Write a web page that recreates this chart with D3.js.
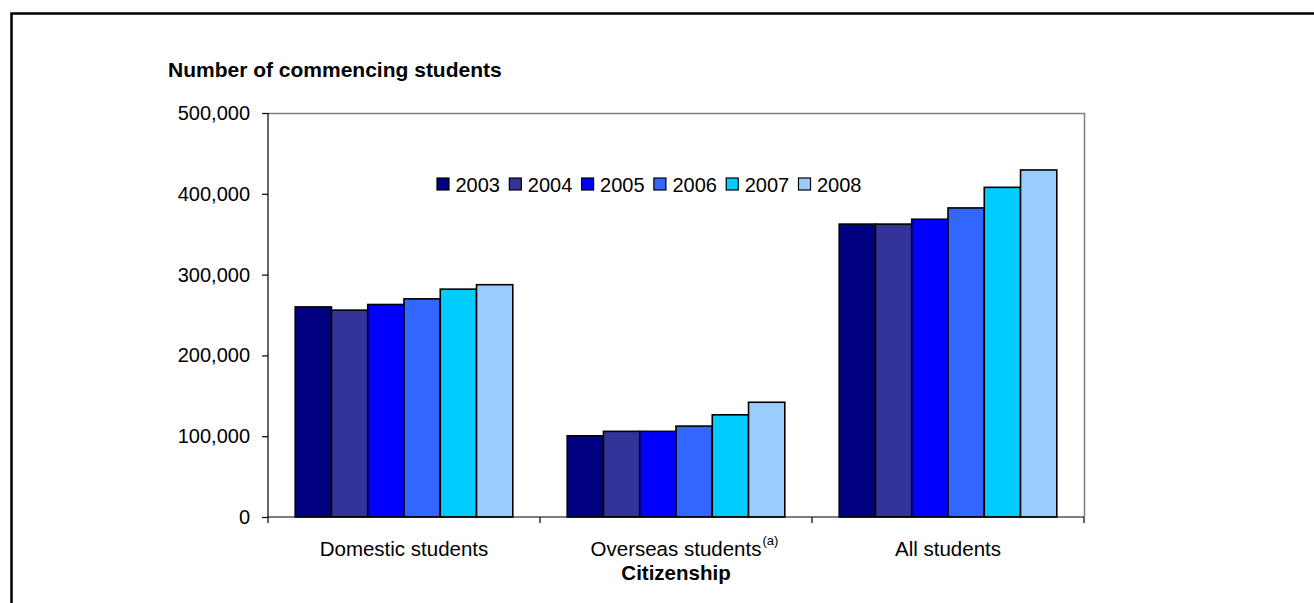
<!DOCTYPE html>
<html>
<head>
<meta charset="utf-8">
<script src="https://cdn.jsdelivr.net/npm/d3@7/dist/d3.min.js"></script>
<style>
  html, body { margin: 0; padding: 0; background: #fff; }
  svg { display: block; font-family: Arial, "Liberation Sans", sans-serif; }
</style>
</head>
<body>
<svg id="chart" width="1314" height="603"></svg>
<script>
// Commencing students by citizenship, 2003–2008
const categories = ["Domestic students", "Overseas students", "All students"];
const years = ["2003", "2004", "2005", "2006", "2007", "2008"];
const domestic = [260000, 256000, 263000, 270000, 282000, 287500];
const overseas = [100500, 106000, 106000, 112500, 126500, 142000];
const allStudents = [362500, 362500, 368500, 382500, 408000, 429500];
const yTicks = [0, 100000, 200000, 300000, 400000, 500000];
const colors = ["#000080", "#333399", "#0000FF", "#3366FF", "#00CCFF", "#99CCFF"];
const footnotes = { "Overseas students": "(a)" };

const seriesByCategory = [domestic, overseas, allStudents];

const svg = d3.select("#chart");

// frame around the whole chart
svg.append("rect")
  .attr("x", 11.5).attr("y", 13.5)
  .attr("width", 1320).attr("height", 700)
  .attr("fill", "none").attr("stroke", "#000").attr("stroke-width", 2.5);

const plot = { left: 268, right: 1084, top: 113, bottom: 517 };

const x = d3.scaleBand().domain(categories).range([plot.left, plot.right]).paddingInner(0).paddingOuter(0);
const bw = x.bandwidth();
const barW = bw / 7.5;
const xs = d3.scaleBand().domain(years).range([barW * 0.75, bw - barW * 0.75]).padding(0);
const y = d3.scaleLinear().domain([0, 500000]).range([plot.bottom, plot.top]);

// plot area outline (top and right in grey)
svg.append("path")
  .attr("d", `M${plot.left},${plot.top + 0.5}H${plot.right + 0.5}V${plot.bottom}`)
  .attr("fill", "none").attr("stroke", "#808080").attr("stroke-width", 1.5);

// bars
const groups = svg.append("g").selectAll("g")
  .data(categories)
  .join("g")
  .attr("transform", d => `translate(${x(d)},0)`);

groups.selectAll("rect")
  .data((c, i) => years.map((yr, j) => ({ yr, v: seriesByCategory[i][j], j })))
  .join("rect")
  .attr("x", d => xs(d.yr))
  .attr("y", d => y(d.v))
  .attr("width", xs.bandwidth())
  .attr("height", d => plot.bottom - y(d.v))
  .attr("fill", d => colors[d.j])
  .attr("stroke", "#000").attr("stroke-width", 1.6);

// y axis
const yAxis = d3.axisLeft(y).tickValues(yTicks).tickSize(6).tickPadding(12)
  .tickFormat(d3.format(","));
const yg = svg.append("g").attr("transform", `translate(${plot.left},0)`).call(yAxis);
yg.select(".domain").attr("stroke", "#000").attr("stroke-width", 1.2).attr("d", `M-6,${plot.top + 0.5}H0V${plot.bottom}`);
yg.selectAll(".tick line").attr("stroke", "#000").attr("stroke-width", 1.2);
yg.selectAll(".tick text").attr("font-size", 20).attr("fill", "#000")
  .attr("font-family", "Arial, 'Liberation Sans', sans-serif");

// x axis: ticks at category boundaries
const xg = svg.append("g").attr("transform", `translate(0,${plot.bottom})`);
xg.append("line").attr("x1", plot.left).attr("x2", plot.right).attr("stroke", "#000").attr("stroke-width", 1.2);
const bounds = categories.map(c => x(c)).concat([plot.right]);
xg.selectAll("line.tk").data(bounds).join("line").attr("class", "tk")
  .attr("x1", d => d).attr("x2", d => d).attr("y1", 0).attr("y2", 6)
  .attr("stroke", "#000").attr("stroke-width", 1.2);

const labels = xg.selectAll("text.cat").data(categories).join("text").attr("class", "cat")
  .attr("x", d => x(d) + bw / 2).attr("y", 39)
  .attr("text-anchor", "middle").attr("font-size", 20.5).attr("fill", "#000")
  .text(d => d);

// footnote markers placed just after the centred label
labels.each(function (d) {
  if (!footnotes[d]) return;
  const box = this.getBBox();
  xg.append("text")
    .attr("x", box.x + box.width + 1).attr("y", 28)
    .attr("font-size", 13).attr("fill", "#000")
    .text(footnotes[d]);
});

// axis titles
svg.append("text").attr("x", (plot.left + plot.right) / 2).attr("y", 580)
  .attr("text-anchor", "middle").attr("font-size", 20.5).attr("font-weight", "bold")
  .text("Citizenship");
svg.append("text").attr("x", 168).attr("y", 77)
  .attr("font-size", 21).attr("font-weight", "bold")
  .text("Number of commencing students");

// legend
const legend = svg.append("g").attr("transform", "translate(437,178)");
const item = legend.selectAll("g").data(years).join("g")
  .attr("transform", (d, i) => `translate(${i * 72.3},0)`);
item.append("rect").attr("width", 12).attr("height", 12)
  .attr("fill", (d, i) => colors[i]).attr("stroke", "#000").attr("stroke-width", 1.2);
item.append("text").attr("x", 18.5).attr("y", 13.5).attr("font-size", 20).text(d => d);
</script>
</body>
</html>
